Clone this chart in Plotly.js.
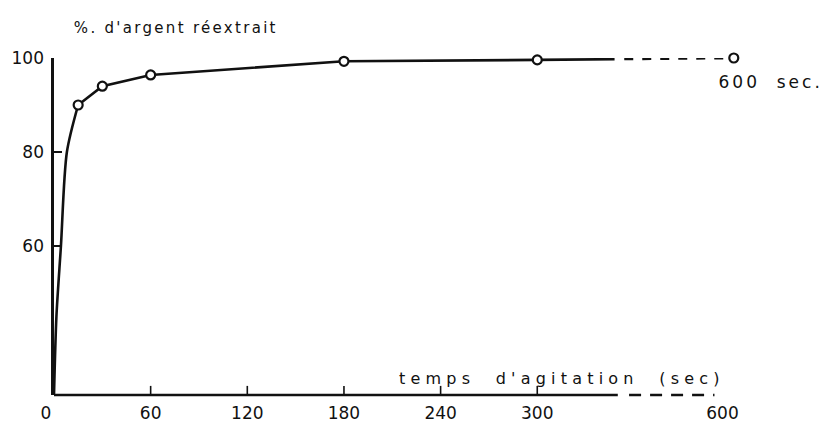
<!DOCTYPE html>
<html><head><meta charset="utf-8">
<script src="https://cdn.plot.ly/plotly-3.0.1.min.js"></script>
<style>
html,body{margin:0;padding:0;background:#fff;}
#chart{width:827px;height:424px;}
g.annotation[data-index="0"] text{letter-spacing:2.3px;}
g.annotation[data-index="1"] text{letter-spacing:5.2px;}
g.annotation[data-index="2"] text{letter-spacing:3px;}
</style></head>
<body><div id="chart"></div>
<script>
// measured points (seconds, % silver re-extracted)
const timeSec = [15, 30, 60, 180, 300];
const pctSilver = [90, 94, 96.4, 99.3, 99.6];
// last measurement at 600 s, drawn after the axis break
const lastTime = 600;
const lastPct = 100;
// initial rise of the drawn curve
const riseTime = [0, 1.5, 4.3, 8, 15];
const risePct = [28.3, 45, 60, 80, 90];
// tick labels
const xTickVals = [0, 60, 120, 180, 240, 300];
const xTickText = ['0\u00a0\u00a0\u00a0', '60', '120', '180', '240', '300', '600'];
const yTickVals = [60, 80, 100];

// axis break: plotted position of 600 s, and where the solid axis / line end
const breakPos = 422;      // position for 600 s
const breakLabelPos = 415; // position of "600" tick label
const lineSolidEnd = 348;
const lineDashStart = 354;
const axisSolidEnd = 350;
const axisDashStart = 357;
const axisDashEnd = 410;
const yMin = 28.3;

const ink = '#111';
const fam = 'DejaVu Sans, sans-serif';
const fnt = {family: fam, size: 17, color: ink};

function lerpPct(pos) {
  const p0 = pctSilver[pctSilver.length - 1];
  return p0 + (lastPct - p0) * (pos - 300) / (breakPos - 300);
}

const traces = [
  {x: riseTime, y: risePct, mode: 'lines', line: {color: ink, width: 2.6, shape: 'spline', smoothing: 0.8}, cliponaxis: false},
  {x: timeSec, y: pctSilver, mode: 'lines', line: {color: ink, width: 2.6}, cliponaxis: false},
  {x: [300, lineSolidEnd], y: [pctSilver[pctSilver.length - 1], lerpPct(lineSolidEnd)], mode: 'lines', line: {color: ink, width: 2.6}, cliponaxis: false},
  {x: [lineDashStart, breakPos], y: [lerpPct(lineDashStart), lastPct], mode: 'lines', line: {color: ink, width: 2.6, dash: '9px,9px'}, cliponaxis: false},
  // x tick marks (upward only; the lower half is clipped)
  {x: xTickVals.slice(1), y: xTickVals.slice(1).map(() => yMin), mode: 'markers', cliponaxis: true,
   marker: {symbol: 'line-ns', size: 13, line: {color: ink, width: 1.6}}},
  // markers
  {x: timeSec.concat([breakPos]), y: pctSilver.concat([lastPct]), mode: 'markers', cliponaxis: false,
   marker: {symbol: 'circle', size: 9, color: '#fff', line: {color: ink, width: 2.2}}}
];

const layout = {
  width: 827, height: 424,
  margin: {l: 54, r: 32, t: 58, b: 29},
  paper_bgcolor: '#fff', plot_bgcolor: '#fff',
  showlegend: false,
  font: fnt,
  xaxis: {range: [0, 460], showgrid: false, zeroline: false, showline: false,
          tickvals: xTickVals.concat([breakLabelPos]), ticktext: xTickText, ticks: '',
          tickfont: fnt, ticklabelstandoff: 6},
  yaxis: {range: [yMin, 100], showgrid: false, zeroline: false, showline: true, linecolor: ink, linewidth: 2.6,
          tickvals: yTickVals, ticks: 'inside', ticklen: 8, tickwidth: 1.6, tickcolor: ink, tickfont: fnt,
          ticklabelstandoff: 4},
  shapes: [
    {type: 'line', xref: 'x', yref: 'paper', x0: 0, x1: axisSolidEnd, y0: 0, y1: 0, line: {color: ink, width: 2.6}},
    {type: 'line', xref: 'x', yref: 'paper', x0: axisDashStart, x1: axisDashEnd, y0: 0, y1: 0, line: {color: ink, width: 2.6, dash: '12px,9px'}}
  ],
  annotations: [
    {text: '%. d\'argent réextrait', xref: 'paper', yref: 'paper', x: (176 - 54) / 741, y: 1.09, xanchor: 'center', yanchor: 'middle', showarrow: false, font: {family: fam, size: 15, color: ink}},
    {text: 'temps  d\'agitation  (sec)', xref: 'paper', yref: 'y', x: (562 - 54) / 741, y: yMin + 3.6, xanchor: 'center', yanchor: 'middle', showarrow: false, font: {family: fam, size: 16, color: ink}},
    {text: '600  sec.', xref: 'paper', yref: 'y', x: (770 - 54) / 741, y: 94.9, xanchor: 'center', yanchor: 'middle', showarrow: false, font: {family: fam, size: 17, color: ink}}
  ]
};

Plotly.newPlot('chart', traces, layout, {staticPlot: true});
</script></body></html>
